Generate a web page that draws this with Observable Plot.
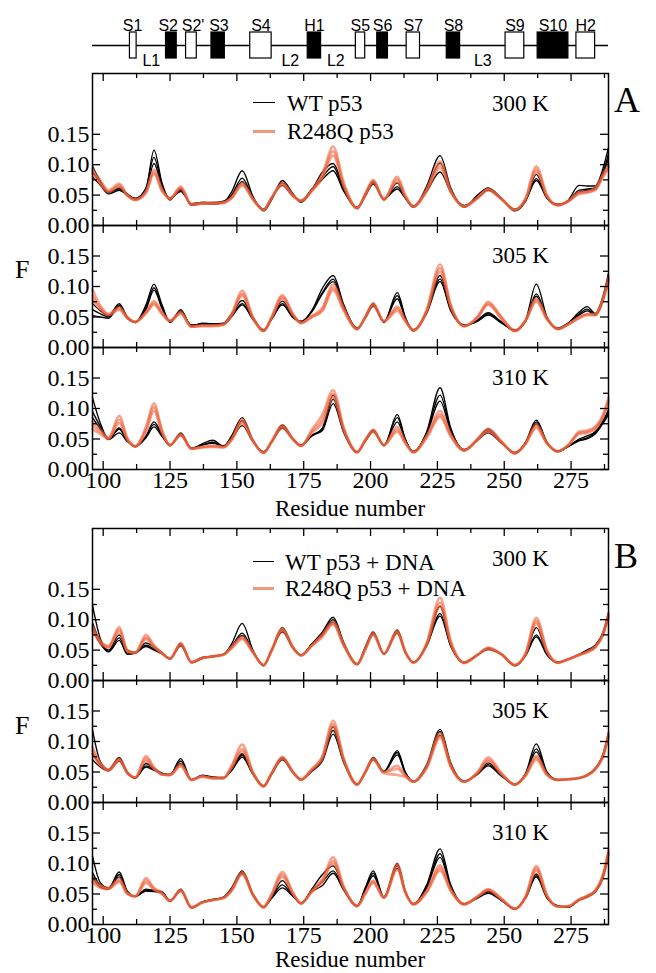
<!DOCTYPE html>
<html><head><meta charset="utf-8">
<script src="https://cdn.jsdelivr.net/npm/d3@7"></script>
<script src="https://cdn.jsdelivr.net/npm/@observablehq/plot@0.6"></script>
<style>
body{margin:0;background:#fff;}
#fig{position:relative;width:656px;height:973px;overflow:hidden;background:#fff;}
#fig svg{position:absolute;left:0;overflow:visible;background:transparent;}
.t{position:absolute;white-space:nowrap;line-height:1;transform:translateY(-50%);font-family:"Liberation Serif","Times New Roman",serif;color:#000;}
.ln{position:absolute;height:0;}
</style></head><body><div id="fig"></div><script>
// ---------- data ----------
const residues = [96,99,102,106,109,112,116,119,122,125,129,133,137,141,145,148,152,156,160,163,167,171,174,178,182,186,190,195,198,201,205,210,213,216,221,226,230,235,240,244,249,254,258,262,266,270,274,278,281,284,287,289];

const a1Wt = [
[0.098,0.072,0.055,0.06,0.05,0.045,0.06,0.124,0.07,0.042, 0.06,0.033,0.036,0.035,0.038,0.055,0.09,0.048,0.024,0.042, 0.074,0.052,0.038,0.058,0.088,0.102,0.062,0.028,0.052,0.072, 0.042,0.07,0.045,0.03,0.065,0.115,0.062,0.03,0.05,0.062, 0.045,0.024,0.04,0.084,0.045,0.033,0.042,0.066,0.065,0.065, 0.095,0.128],
[0.088,0.07,0.054,0.062,0.052,0.044,0.062,0.112,0.066,0.044, 0.058,0.035,0.038,0.037,0.039,0.05,0.078,0.045,0.026,0.045, 0.07,0.05,0.04,0.06,0.08,0.097,0.058,0.029,0.05,0.07, 0.043,0.064,0.046,0.031,0.06,0.103,0.058,0.032,0.046,0.06, 0.044,0.026,0.042,0.077,0.046,0.034,0.04,0.058,0.06,0.062, 0.088,0.118],
[0.08,0.066,0.052,0.058,0.05,0.043,0.058,0.102,0.063,0.045, 0.056,0.036,0.038,0.038,0.04,0.048,0.072,0.044,0.027,0.046, 0.066,0.048,0.041,0.058,0.076,0.09,0.056,0.03,0.048,0.068, 0.044,0.06,0.045,0.032,0.056,0.088,0.055,0.033,0.045,0.058, 0.043,0.027,0.041,0.074,0.045,0.035,0.04,0.055,0.058,0.06, 0.085,0.11]
];
const a1Mut = [
[0.094,0.074,0.058,0.069,0.05,0.042,0.056,0.092,0.06,0.044, 0.064,0.034,0.037,0.036,0.038,0.045,0.07,0.043,0.025,0.045, 0.07,0.05,0.04,0.058,0.085,0.13,0.07,0.028,0.052,0.075, 0.043,0.08,0.05,0.031,0.06,0.105,0.058,0.031,0.045,0.06, 0.044,0.025,0.045,0.097,0.05,0.033,0.04,0.055,0.056,0.062, 0.085,0.1],
[0.09,0.07,0.056,0.066,0.05,0.043,0.055,0.088,0.058,0.045, 0.062,0.035,0.037,0.037,0.038,0.046,0.068,0.044,0.026,0.046, 0.068,0.049,0.041,0.058,0.082,0.122,0.066,0.029,0.05,0.073, 0.044,0.076,0.048,0.032,0.058,0.1,0.056,0.032,0.046,0.06, 0.044,0.026,0.044,0.092,0.048,0.034,0.04,0.053,0.055,0.06, 0.082,0.097],
[0.086,0.068,0.055,0.064,0.049,0.042,0.054,0.085,0.057,0.044, 0.06,0.034,0.036,0.036,0.037,0.045,0.066,0.043,0.026,0.045, 0.066,0.048,0.04,0.056,0.078,0.115,0.064,0.029,0.049,0.07, 0.043,0.072,0.047,0.031,0.056,0.095,0.055,0.031,0.045,0.058, 0.043,0.026,0.043,0.088,0.047,0.033,0.04,0.052,0.054,0.058, 0.08,0.094]
];
const a2Wt = [
[0.072,0.06,0.052,0.072,0.05,0.041,0.07,0.104,0.07,0.041, 0.062,0.035,0.04,0.039,0.04,0.055,0.077,0.05,0.027,0.048, 0.076,0.052,0.041,0.06,0.097,0.118,0.07,0.03,0.05,0.072, 0.041,0.09,0.05,0.027,0.06,0.118,0.065,0.035,0.045,0.057, 0.042,0.027,0.045,0.104,0.05,0.03,0.04,0.058,0.067,0.056, 0.085,0.122],
[0.062,0.055,0.05,0.07,0.049,0.041,0.066,0.098,0.066,0.042, 0.06,0.036,0.039,0.038,0.039,0.052,0.072,0.047,0.028,0.047, 0.072,0.05,0.042,0.06,0.09,0.112,0.068,0.031,0.049,0.07, 0.042,0.085,0.048,0.028,0.058,0.112,0.062,0.036,0.044,0.055, 0.041,0.028,0.044,0.088,0.048,0.031,0.04,0.055,0.063,0.054, 0.08,0.118],
[0.052,0.05,0.048,0.068,0.048,0.042,0.062,0.094,0.064,0.043, 0.058,0.037,0.038,0.038,0.038,0.05,0.07,0.046,0.029,0.046, 0.07,0.049,0.043,0.058,0.088,0.108,0.066,0.032,0.048,0.068, 0.043,0.08,0.047,0.029,0.056,0.108,0.06,0.037,0.043,0.053, 0.04,0.029,0.043,0.084,0.047,0.032,0.04,0.053,0.06,0.053, 0.078,0.112]
];
const a2Mut = [
[0.095,0.068,0.055,0.066,0.05,0.042,0.058,0.076,0.058,0.044, 0.058,0.034,0.036,0.036,0.038,0.055,0.093,0.05,0.027,0.05, 0.086,0.055,0.04,0.052,0.065,0.103,0.065,0.03,0.05,0.073, 0.043,0.067,0.045,0.028,0.062,0.136,0.07,0.035,0.05,0.075, 0.05,0.027,0.045,0.08,0.048,0.03,0.038,0.05,0.055,0.055, 0.082,0.115],
[0.085,0.065,0.054,0.064,0.049,0.042,0.057,0.073,0.056,0.044, 0.057,0.034,0.036,0.036,0.038,0.053,0.088,0.049,0.027,0.049, 0.083,0.054,0.04,0.05,0.062,0.098,0.062,0.03,0.05,0.07, 0.043,0.064,0.044,0.028,0.06,0.13,0.068,0.035,0.05,0.072, 0.048,0.027,0.044,0.078,0.047,0.03,0.038,0.049,0.054,0.054, 0.08,0.112],
[0.078,0.062,0.053,0.062,0.048,0.042,0.056,0.07,0.055,0.043, 0.055,0.034,0.035,0.035,0.037,0.052,0.085,0.048,0.028,0.048, 0.08,0.053,0.041,0.05,0.06,0.094,0.06,0.031,0.049,0.068, 0.043,0.06,0.043,0.029,0.058,0.124,0.066,0.035,0.049,0.07, 0.047,0.028,0.044,0.075,0.046,0.031,0.038,0.048,0.053,0.053, 0.078,0.108]
];
const a3Wt = [
[0.118,0.075,0.05,0.068,0.048,0.037,0.055,0.078,0.058,0.039, 0.06,0.034,0.042,0.048,0.038,0.055,0.085,0.048,0.028,0.045, 0.073,0.05,0.039,0.055,0.068,0.122,0.065,0.028,0.048,0.065, 0.039,0.09,0.05,0.028,0.062,0.134,0.068,0.031,0.05,0.066, 0.045,0.026,0.045,0.081,0.045,0.029,0.038,0.05,0.055,0.062, 0.08,0.098],
[0.095,0.07,0.05,0.066,0.047,0.038,0.054,0.074,0.056,0.04, 0.058,0.035,0.04,0.045,0.038,0.052,0.08,0.047,0.029,0.045, 0.07,0.05,0.04,0.056,0.066,0.115,0.063,0.029,0.047,0.063, 0.04,0.085,0.049,0.029,0.06,0.122,0.065,0.032,0.049,0.063, 0.044,0.027,0.044,0.078,0.044,0.03,0.038,0.048,0.052,0.06, 0.078,0.094],
[0.085,0.066,0.049,0.06,0.046,0.038,0.052,0.07,0.054,0.04, 0.056,0.035,0.04,0.043,0.039,0.05,0.072,0.046,0.029,0.045, 0.068,0.049,0.04,0.055,0.064,0.108,0.06,0.029,0.046,0.062, 0.04,0.078,0.048,0.03,0.058,0.112,0.062,0.033,0.048,0.06, 0.043,0.028,0.043,0.075,0.043,0.03,0.038,0.047,0.05,0.058, 0.076,0.09]
];
const a3Mut = [
[0.078,0.065,0.052,0.088,0.052,0.038,0.07,0.108,0.065,0.04, 0.058,0.034,0.037,0.039,0.037,0.05,0.082,0.048,0.027,0.046, 0.073,0.05,0.038,0.065,0.09,0.13,0.068,0.028,0.048,0.065, 0.04,0.07,0.045,0.028,0.055,0.096,0.058,0.031,0.05,0.067, 0.046,0.026,0.043,0.074,0.044,0.029,0.04,0.062,0.064,0.07, 0.09,0.118],
[0.072,0.062,0.051,0.082,0.05,0.038,0.066,0.102,0.062,0.04, 0.057,0.034,0.037,0.038,0.037,0.049,0.078,0.047,0.027,0.046, 0.07,0.05,0.039,0.062,0.082,0.124,0.066,0.028,0.048,0.064, 0.04,0.066,0.044,0.028,0.054,0.09,0.056,0.031,0.049,0.064, 0.045,0.027,0.043,0.071,0.043,0.03,0.04,0.06,0.062,0.068, 0.088,0.113],
[0.066,0.058,0.05,0.076,0.049,0.038,0.062,0.096,0.06,0.04, 0.056,0.034,0.036,0.037,0.036,0.048,0.075,0.046,0.028,0.045, 0.068,0.049,0.039,0.06,0.076,0.118,0.064,0.029,0.047,0.062, 0.04,0.062,0.043,0.029,0.052,0.086,0.054,0.032,0.048,0.062, 0.044,0.027,0.042,0.068,0.042,0.03,0.04,0.058,0.06,0.066, 0.086,0.108]
];
const b1Wt = [
[0.124,0.068,0.05,0.075,0.05,0.046,0.062,0.055,0.046,0.035, 0.061,0.029,0.036,0.04,0.043,0.06,0.094,0.05,0.024,0.05, 0.087,0.055,0.041,0.06,0.08,0.104,0.062,0.026,0.055,0.08, 0.043,0.083,0.048,0.029,0.06,0.122,0.06,0.029,0.042,0.053, 0.043,0.024,0.042,0.087,0.045,0.029,0.035,0.043,0.05,0.058, 0.08,0.112],
[0.095,0.063,0.048,0.07,0.045,0.046,0.058,0.052,0.045,0.036, 0.059,0.03,0.037,0.039,0.043,0.056,0.078,0.048,0.025,0.05, 0.083,0.054,0.042,0.06,0.077,0.1,0.06,0.027,0.053,0.078, 0.044,0.08,0.047,0.03,0.058,0.11,0.057,0.03,0.042,0.052, 0.043,0.025,0.042,0.075,0.043,0.03,0.035,0.043,0.05,0.057, 0.078,0.108],
[0.085,0.06,0.047,0.066,0.043,0.045,0.056,0.05,0.044,0.036, 0.057,0.03,0.038,0.04,0.043,0.055,0.074,0.047,0.025,0.049, 0.08,0.053,0.042,0.058,0.075,0.096,0.058,0.027,0.052,0.076, 0.044,0.078,0.046,0.03,0.057,0.106,0.056,0.03,0.042,0.051, 0.043,0.025,0.041,0.072,0.042,0.03,0.035,0.042,0.048,0.055, 0.076,0.105]
];
const b1Mut = [
[0.09,0.065,0.057,0.088,0.05,0.046,0.075,0.058,0.045,0.036, 0.062,0.03,0.037,0.04,0.043,0.055,0.072,0.047,0.025,0.05, 0.086,0.055,0.041,0.058,0.076,0.097,0.06,0.027,0.052,0.079, 0.044,0.082,0.047,0.029,0.062,0.136,0.065,0.029,0.042,0.054, 0.043,0.025,0.045,0.103,0.05,0.029,0.035,0.042,0.048,0.056, 0.078,0.11],
[0.086,0.063,0.055,0.084,0.049,0.046,0.071,0.056,0.045,0.036, 0.06,0.03,0.037,0.04,0.043,0.054,0.07,0.046,0.025,0.05, 0.084,0.054,0.041,0.057,0.074,0.094,0.058,0.027,0.051,0.077, 0.044,0.08,0.047,0.03,0.06,0.128,0.062,0.029,0.042,0.053, 0.043,0.025,0.044,0.098,0.048,0.029,0.035,0.042,0.047,0.055, 0.076,0.107],
[0.082,0.061,0.054,0.08,0.048,0.045,0.068,0.055,0.044,0.036, 0.058,0.03,0.037,0.039,0.042,0.053,0.068,0.046,0.026,0.049, 0.082,0.053,0.042,0.057,0.072,0.092,0.057,0.027,0.05,0.075, 0.044,0.078,0.046,0.03,0.058,0.122,0.06,0.03,0.042,0.052, 0.043,0.026,0.043,0.094,0.047,0.03,0.035,0.042,0.046,0.054, 0.075,0.104]
];
const b2Wt = [
[0.119,0.066,0.054,0.074,0.05,0.04,0.064,0.056,0.048,0.045, 0.072,0.037,0.045,0.042,0.04,0.055,0.08,0.048,0.026,0.048, 0.074,0.05,0.037,0.052,0.072,0.124,0.07,0.029,0.05,0.074, 0.051,0.085,0.05,0.034,0.062,0.12,0.065,0.034,0.048,0.065, 0.045,0.029,0.048,0.096,0.05,0.037,0.038,0.04,0.045,0.056, 0.08,0.115],
[0.08,0.062,0.053,0.072,0.049,0.04,0.06,0.054,0.047,0.046, 0.068,0.037,0.044,0.041,0.04,0.053,0.077,0.047,0.027,0.047, 0.072,0.049,0.038,0.052,0.07,0.118,0.067,0.03,0.05,0.072, 0.051,0.082,0.049,0.034,0.06,0.116,0.062,0.035,0.047,0.062, 0.044,0.03,0.047,0.088,0.048,0.037,0.038,0.04,0.045,0.055, 0.078,0.112],
[0.07,0.058,0.052,0.068,0.048,0.041,0.058,0.053,0.047,0.046, 0.064,0.038,0.044,0.041,0.041,0.052,0.074,0.046,0.027,0.046, 0.07,0.049,0.038,0.051,0.068,0.112,0.065,0.03,0.049,0.07, 0.05,0.078,0.048,0.035,0.058,0.11,0.06,0.035,0.046,0.06, 0.043,0.03,0.046,0.083,0.047,0.038,0.038,0.04,0.044,0.054, 0.077,0.108]
];
const b2Mut = [
[0.09,0.065,0.054,0.072,0.05,0.041,0.076,0.058,0.046,0.045, 0.063,0.037,0.043,0.04,0.04,0.06,0.095,0.05,0.026,0.048, 0.075,0.05,0.037,0.055,0.076,0.134,0.072,0.029,0.05,0.073, 0.05,0.06,0.045,0.034,0.06,0.114,0.062,0.034,0.05,0.074, 0.048,0.029,0.045,0.076,0.046,0.037,0.038,0.04,0.045,0.055, 0.078,0.113],
[0.085,0.063,0.053,0.07,0.049,0.041,0.072,0.056,0.046,0.045, 0.061,0.037,0.043,0.04,0.04,0.058,0.088,0.049,0.027,0.048, 0.073,0.05,0.038,0.054,0.074,0.128,0.07,0.03,0.049,0.071, 0.05,0.055,0.044,0.034,0.058,0.11,0.06,0.034,0.049,0.07, 0.047,0.029,0.045,0.074,0.046,0.037,0.038,0.04,0.045,0.055, 0.077,0.11],
[0.08,0.06,0.052,0.068,0.048,0.041,0.068,0.055,0.046,0.045, 0.06,0.037,0.042,0.04,0.04,0.056,0.084,0.048,0.027,0.047, 0.072,0.049,0.038,0.053,0.072,0.124,0.068,0.03,0.049,0.07, 0.048,0.045,0.042,0.034,0.056,0.106,0.058,0.034,0.048,0.068, 0.046,0.03,0.044,0.07,0.045,0.037,0.038,0.04,0.044,0.054, 0.076,0.108]
];
const b3Wt = [
[0.112,0.068,0.06,0.086,0.055,0.046,0.058,0.056,0.054,0.038, 0.058,0.027,0.036,0.04,0.045,0.06,0.088,0.05,0.028,0.045, 0.072,0.048,0.034,0.058,0.082,0.096,0.06,0.03,0.06,0.088, 0.045,0.1,0.055,0.033,0.065,0.124,0.065,0.033,0.045,0.055, 0.04,0.025,0.045,0.083,0.045,0.03,0.028,0.04,0.047,0.055, 0.082,0.12],
[0.085,0.064,0.059,0.082,0.054,0.046,0.056,0.055,0.053,0.039, 0.056,0.028,0.037,0.041,0.045,0.058,0.086,0.049,0.028,0.044, 0.065,0.047,0.035,0.056,0.07,0.088,0.058,0.03,0.058,0.084, 0.045,0.096,0.054,0.033,0.062,0.116,0.062,0.034,0.044,0.053, 0.04,0.026,0.044,0.08,0.044,0.03,0.029,0.04,0.046,0.054, 0.08,0.116],
[0.078,0.061,0.058,0.078,0.052,0.046,0.055,0.054,0.052,0.039, 0.055,0.028,0.037,0.041,0.044,0.056,0.084,0.048,0.029,0.043, 0.06,0.046,0.035,0.054,0.064,0.084,0.056,0.031,0.056,0.08, 0.045,0.092,0.053,0.034,0.06,0.11,0.06,0.034,0.043,0.051, 0.039,0.026,0.043,0.078,0.043,0.031,0.029,0.04,0.045,0.053, 0.078,0.112]
];
const b3Mut = [
[0.076,0.064,0.06,0.075,0.052,0.046,0.076,0.06,0.052,0.038, 0.057,0.028,0.036,0.04,0.044,0.057,0.086,0.05,0.028,0.05, 0.086,0.052,0.034,0.055,0.075,0.11,0.062,0.03,0.052,0.072, 0.044,0.099,0.054,0.033,0.055,0.097,0.058,0.033,0.046,0.058, 0.042,0.025,0.046,0.096,0.048,0.029,0.03,0.041,0.047,0.056, 0.083,0.122],
[0.072,0.062,0.059,0.072,0.051,0.046,0.072,0.058,0.051,0.039, 0.056,0.028,0.036,0.04,0.044,0.056,0.084,0.049,0.028,0.049, 0.082,0.051,0.035,0.054,0.072,0.104,0.06,0.03,0.051,0.07, 0.044,0.095,0.053,0.033,0.054,0.092,0.056,0.033,0.046,0.057, 0.042,0.026,0.045,0.092,0.047,0.029,0.03,0.041,0.046,0.055, 0.08,0.118],
[0.068,0.06,0.058,0.07,0.05,0.046,0.068,0.057,0.05,0.039, 0.055,0.028,0.036,0.04,0.043,0.055,0.082,0.048,0.029,0.048, 0.078,0.05,0.035,0.053,0.07,0.1,0.058,0.031,0.05,0.068, 0.044,0.09,0.052,0.034,0.053,0.088,0.055,0.034,0.045,0.056, 0.041,0.026,0.045,0.088,0.046,0.03,0.03,0.04,0.045,0.054, 0.078,0.114]
];

// secondary structure
const ssNames = ["S1","S2","S2'","S3","S4","H1","S5","S6","S7","S8","S9","S10","H2"];
const ssStart = [110,123.5,131,140.5,155,176.5,194.5,202.5,213.5,228.5,250.5,262.5,277];
const ssEnd   = [112.5,127.5,135,145.5,163,181.5,198,206.5,218.5,233.5,257.5,274,284];
const ssFill  = ["white","black","white","black","white","black","white","black","white","black","white","black","white"];
const ssLabelAt = [111,124.3,133.6,143.3,159,179,196.2,204.5,216,231,254,268.2,280.5];
const loopNames = ["L1","L2","L2","L3"];
const loopPos = [118,170,187,242];

// ticks
const xMajor = [100,125,150,175,200,225,250,275];
const xMinor = [112.5,137.5,162.5,187.5,212.5,237.5,262.5,287.5];
const yMajor = [0,0.05,0.1,0.15];
const yMinor = [0.025,0.075,0.125];

const temps = ["300 K","305 K","310 K"];
const legendA = ["WT p53","R248Q p53"];
const legendB = ["WT p53 + DNA","R248Q p53 + DNA"];

// ---------- drawing ----------
const fig = document.getElementById("fig");
const SERIF = '"Liberation Serif","Times New Roman",serif';
const BLACK = "#000";
const SALMON = "#f0623c";

function toRows(lines){
  return lines.flatMap((vals,r)=>vals.map((v,i)=>({x:residues[i], y:v, rep:r})).filter(d=>d.x!==undefined));
}
function addText(str, left, cy, size, extra){
  const d=document.createElement("div"); d.className="t"; d.textContent=str;
  d.style.left=left+"px"; d.style.top=cy+"px"; d.style.fontSize=size+"px";
  if(extra) Object.assign(d.style, extra);
  fig.appendChild(d); return d;
}
function addLine(x1,x2,y,color,w,op){
  const d=document.createElement("div"); d.className="ln";
  d.style.left=x1+"px"; d.style.width=(x2-x1)+"px"; d.style.top=(y-w/2)+"px";
  d.style.borderTop=w+"px solid "+color; d.style.opacity=op;
  fig.appendChild(d);
}

// structure diagram
const ssRows = ssNames.map((n,i)=>({name:n,start:ssStart[i],end:ssEnd[i],fill:ssFill[i],at:ssLabelAt[i]}));
const loopRows = loopNames.map((n,i)=>({name:n,pos:loopPos[i]}));
const ss = Plot.plot({
  width:656, height:73, marginTop:32, marginBottom:15, marginLeft:92, marginRight:48,
  x:{domain:[96,289], axis:null}, y:{domain:[0,1], axis:null},
  style:{fontFamily:'"Liberation Sans",Arial,sans-serif', fontSize:"16px", background:"transparent", overflow:"visible", color:"#000"},
  marks:[
    Plot.ruleY([0.5], {stroke:BLACK, strokeWidth:1.5}),
    Plot.rect(ssRows, {x1:"start", x2:"end", y1:()=>0, y2:()=>1, fill:"fill", stroke:BLACK, strokeWidth:1.2}),
    Plot.text(ssRows, {x:"at", text:"name", frameAnchor:"top", dy:-13, fill:BLACK}),
    Plot.text(loopRows, {x:"pos", text:"name", frameAnchor:"bottom", dy:7, fill:BLACK})
  ]
});
ss.style.top="0px";
fig.appendChild(ss);

function subplot(cfg){
  const {top,h,ymax,wt,mut,last} = cfg;
  const mt=10, mb=last?34:10, W=656-92-48;
  const svg = Plot.plot({
    width:656, height:h+mt+mb, marginTop:mt, marginBottom:mb, marginLeft:92, marginRight:48,
    x:{domain:[96,289], axis: last ? undefined : null},
    y:{domain:[0,ymax]},
    style:{fontFamily:SERIF, fontSize:"24px", color:"#000", background:"transparent", overflow:"visible"},
    marks:[
      Plot.line(toRows(wt), {x:"x", y:"y", z:"rep", stroke:BLACK, strokeWidth:1.35, curve:"monotone-x"}),
      Plot.line(toRows(mut), {x:"x", y:"y", z:"rep", stroke:SALMON, strokeWidth:2.6, strokeOpacity:0.58, curve:"monotone-x"}),
      Plot.tickX(xMajor, {x:d=>d, insetTop:h-8, stroke:BLACK, strokeWidth:1.3}),
      Plot.tickX(xMajor, {x:d=>d, insetBottom:h-8, stroke:BLACK, strokeWidth:1.3}),
      Plot.tickX(xMinor, {x:d=>d, insetTop:h-5, stroke:BLACK, strokeWidth:1.3}),
      Plot.tickX(xMinor, {x:d=>d, insetBottom:h-5, stroke:BLACK, strokeWidth:1.3}),
      Plot.tickY(yMajor, {y:d=>d, insetRight:W-8, stroke:BLACK, strokeWidth:1.3}),
      Plot.tickY(yMajor, {y:d=>d, insetLeft:W-8, stroke:BLACK, strokeWidth:1.3}),
      Plot.tickY(yMinor, {y:d=>d, insetRight:W-5, stroke:BLACK, strokeWidth:1.3}),
      Plot.tickY(yMinor, {y:d=>d, insetLeft:W-5, stroke:BLACK, strokeWidth:1.3}),
      Plot.axisY(yMajor, {tickSize:0, tickPadding:3, tickFormat:d=>d.toFixed(2), label:null, fill:BLACK}),
      last ? Plot.axisX(xMajor, {tickSize:0, tickPadding:1, label:null, fill:BLACK}) : null,
      Plot.frame({stroke:BLACK, strokeWidth:1.5})
    ]
  });
  svg.style.top=(top-mt)+"px";
  fig.appendChild(svg);
}

const panels = [
  {top:73,  h:152, ymax:0.25, wt:a1Wt, mut:a1Mut, temp:temps[0]},
  {top:225, h:122, ymax:0.2,  wt:a2Wt, mut:a2Mut, temp:temps[1]},
  {top:347, h:122, ymax:0.2,  wt:a3Wt, mut:a3Mut, temp:temps[2], last:true},
  {top:528, h:152, ymax:0.25, wt:b1Wt, mut:b1Mut, temp:temps[0]},
  {top:680, h:122, ymax:0.2,  wt:b2Wt, mut:b2Mut, temp:temps[1]},
  {top:802, h:122, ymax:0.2,  wt:b3Wt, mut:b3Mut, temp:temps[2], last:true}
];
panels.forEach(p=>{ subplot(p); addText(p.temp, 492, p.top+30, 23); });

// legends
addLine(253,275,103,BLACK,1.6,1); addText(legendA[0],287,103,23);
addLine(253,275,131,"#f39070",3,0.95); addText(legendA[1],287,131,23);
addLine(253,274,562,BLACK,1.6,1); addText(legendB[0],285,562,23);
addLine(253,274,588,"#f39070",3,0.95); addText(legendB[1],285,588,23);

// panel letters, axis titles
addText("A",614,100,36);
addText("B",614,556,36);
addText("F",15,270,26);
addText("F",15,726,26);
addText("Residue number",350,508,23,{transform:"translate(-50%,-50%)"});
addText("Residue number",350,959,23,{transform:"translate(-50%,-50%)"});
</script></body></html>
